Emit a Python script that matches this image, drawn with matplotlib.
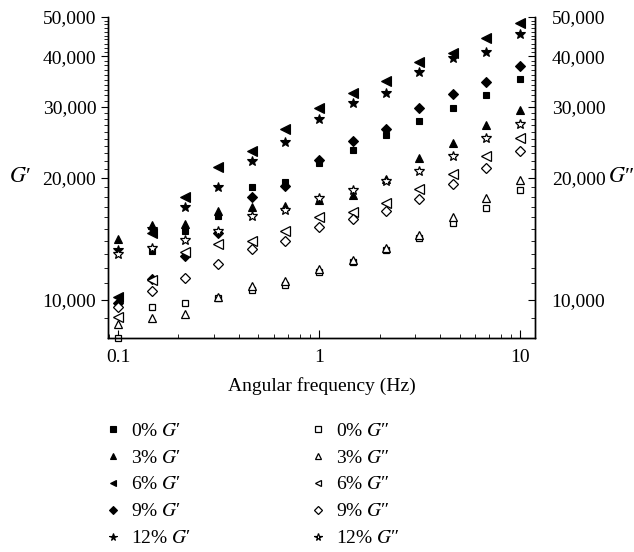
import numpy as np
import matplotlib
matplotlib.use('Agg')
import matplotlib.pyplot as plt
from matplotlib.ticker import FixedLocator, FuncFormatter, NullFormatter, LogLocator

plt.rcParams['font.family'] = ['Liberation Serif', 'DejaVu Serif']
plt.rcParams['mathtext.fontset'] = 'stix'

# angular frequency (Hz)
freq = [0.1, 0.147, 0.215, 0.316, 0.464, 0.681, 1.0, 1.47, 2.15, 3.16, 4.64, 6.81, 10.0]

# storage modulus G'
g1_0 = [9700, 13230, 14830, 16150, 18970, 19500, 21740, 23420, 25530, 27660, 29790, 32100, 35120]
g1_3 = [14170, 15350, 15440, 16600, 16920, 17100, 17700, 18200, 19900, 22400, 24380, 27030, 29460]
g1_6 = [10170, 14660, 17990, 21270, 23270, 26440, 29790, 32450, 34700, 38700, 40800, 44450, 48430]
g1_9 = [9830, 11275, 12860, 14660, 17990, 19090, 22200, 24650, 26400, 29790, 32300, 34530, 37870]
g1_12 = [13310, 15000, 16920, 18970, 21990, 24510, 27950, 30630, 32450, 36600, 39600, 41030, 45460]

# loss modulus G''
g2_0 = [8050, 9610, 9830, 10100, 10590, 10890, 11740, 12430, 13300, 14250, 15520, 16820, 18640]
g2_3 = [8720, 9020, 9230, 10150, 10830, 11150, 11900, 12550, 13450, 14480, 15980, 17900, 19830]
g2_6 = [9070, 11200, 13150, 13770, 14000, 14830, 16050, 16440, 17400, 18750, 20440, 22650, 25070]
g2_9 = [9610, 10530, 11340, 12280, 13390, 14000, 15100, 15800, 16620, 17800, 19280, 21140, 23300]
g2_12 = [12950, 13460, 14090, 14800, 16150, 16720, 17900, 18700, 19700, 20790, 22650, 25070, 27190]

conc = ['0%', '3%', '6%', '9%', '12%']
markers = ['s', '^', '<', 'D', '*']
msizes = [5, 6, 6.5, 5, 7.5]
g1 = [g1_0, g1_3, g1_6, g1_9, g1_12]
g2 = [g2_0, g2_3, g2_6, g2_9, g2_12]

y_major = [10000, 20000, 30000, 40000, 50000]

fig = plt.figure(figsize=(6.34, 5.52), dpi=100)
ax = fig.add_axes([108/634, 1-338/552, 427/634, 321/552])

handles = []
for c, m, s, vals in zip(conc, markers, msizes, g1):
    h, = ax.plot(freq, vals, ls='none', marker=m, ms=s, mfc='black', mec='black',
                 mew=0.8, label=c + " $G$\u2032", clip_on=False)
    handles.append(h)
for c, m, s, vals in zip(conc, markers, msizes, g2):
    h, = ax.plot(freq, vals, ls='none', marker=m, ms=s, mfc='white', mec='black',
                 mew=0.9, label=c + " $G$\u2033", clip_on=False)
    handles.append(h)

ax.set_xscale('log')
ax.set_yscale('log')
ax.set_xlim(0.0892, 11.87)
ax.set_ylim(8050, 50000)

ax.xaxis.set_major_formatter(FuncFormatter(lambda v, p: '%g' % v))
ax.xaxis.set_minor_locator(LogLocator(base=10, subs=np.arange(2, 10)))
ax.xaxis.set_minor_formatter(NullFormatter())

minors = [v for v in range(8000, 50001, 1000) if v not in y_major]
fmt = FuncFormatter(lambda v, p: '{:,.0f}'.format(v))

ax2 = ax.twinx()
ax2.set_yscale('log')
ax2.set_ylim(ax.get_ylim())
for a in (ax, ax2):
    a.yaxis.set_major_locator(FixedLocator(y_major))
    a.yaxis.set_minor_locator(FixedLocator(minors))
    a.yaxis.set_major_formatter(fmt)
    a.yaxis.set_minor_formatter(NullFormatter())
    a.spines['top'].set_visible(False)
    for sp in a.spines.values():
        sp.set_linewidth(1.0)

ax.tick_params(axis='x', which='both', direction='in', labelsize=14, pad=8)
ax.tick_params(axis='x', which='major', length=6)
ax.tick_params(axis='x', which='minor', length=3)
ax.tick_params(axis='y', which='both', direction='out', labelsize=14)
ax.tick_params(axis='y', which='major', length=5)
ax.tick_params(axis='y', which='minor', length=3)
ax2.tick_params(axis='y', which='both', direction='in', labelsize=14, pad=12)
ax2.tick_params(axis='y', which='major', length=5)
ax2.tick_params(axis='y', which='minor', length=3)

ax.set_xlabel('Angular frequency (Hz)', fontsize=14, labelpad=8)
fig.text(20/634, 1-177/552, "$G$\u2032", fontsize=16, ha='center', va='center')
fig.text(621/634, 1-177/552, "$G$\u2033", fontsize=16, ha='center', va='center')

fig.legend(handles=handles, ncol=2, loc='upper left', bbox_to_anchor=(103/634, 1-422/552),
           frameon=False, handlelength=1.0, handletextpad=0.45, columnspacing=6.0,
           labelspacing=0.48, borderpad=0, borderaxespad=0, markerscale=0.75, fontsize=14)

fig.savefig('out.png', dpi=100)
